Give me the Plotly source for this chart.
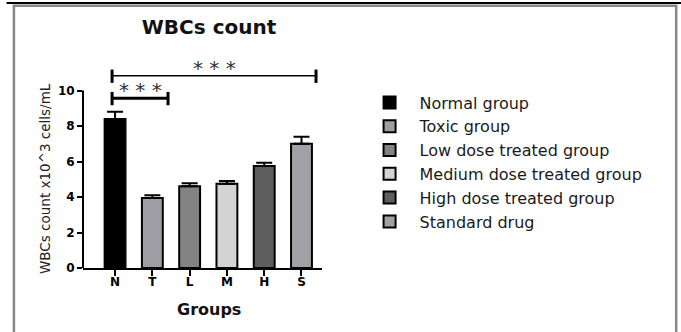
import plotly.graph_objects as go

# ---- data ----
codes = ["N", "T", "L", "M", "H", "S"]
group_names = ["Normal group", "Toxic group", "Low dose treated group",
               "Medium dose treated group", "High dose treated group", "Standard drug"]
wbc_mean = [8.4, 3.95, 4.6, 4.75, 5.75, 7.0]
wbc_sem = [0.4, 0.15, 0.18, 0.15, 0.18, 0.4]
bar_colors = ["#000000", "#9e9ea4", "#838383", "#d3d3d3", "#5e5e5e", "#a2a2a6"]

# significance comparisons: (from index, to index, label)
comparisons = [(0, 1, "* * *"), (0, 5, "* * *")]

fig = go.Figure()
for i, (c, n, v, e, col) in enumerate(zip(codes, group_names, wbc_mean, wbc_sem, bar_colors)):
    fig.add_trace(go.Bar(
        x=[i], y=[v], name=n, width=0.56,
        marker=dict(color=col, line=dict(color="black", width=2)),
        error_y=dict(type="data", array=[e], arrayminus=[0], symmetric=False,
                     color="black", thickness=2, width=8),
    ))

shapes = []
annotations = []
# y-axis line only from 0 to 10
shapes.append(dict(type="line", xref="paper", yref="y", x0=0, x1=0, y0=0, y1=10,
                   line=dict(color="black", width=2)))
# brackets
bracket_levels = [9.57, 10.83]
for (a, b, lab), lvl in zip(comparisons, bracket_levels):
    x0 = a - 0.08
    x1 = b + 0.42 if b == 1 else b + 0.39
    lw = 3 if lvl < 10 else 1.5
    shapes.append(dict(type="line", xref="x", yref="y", x0=x0, x1=x1, y0=lvl, y1=lvl,
                       line=dict(color="black", width=lw)))
    for xx in (x0, x1):
        shapes.append(dict(type="line", xref="x", yref="y", x0=xx, x1=xx,
                           y0=lvl - 0.4, y1=lvl + 0.35, line=dict(color="black", width=3)))
    annotations.append(dict(x=(x0 + x1) / 2, y=lvl + 0.45, xref="x", yref="y",
                            text=lab, showarrow=False, yanchor="middle",
                            font=dict(family="DejaVu Sans", size=20, color="#333")))

# outer frame
shapes.append(dict(type="rect", xref="paper", yref="paper", x0=-0.289, x1=2.482,
                   y0=-0.4, y1=1.231, line=dict(color="#888888", width=2.5), layer="below"))
shapes.append(dict(type="line", xref="paper", yref="paper", x0=-0.32, x1=2.6,
                   y0=1.244, y1=1.244, line=dict(color="black", width=2)))

annotations.append(dict(xref="paper", yref="paper", x=-0.159, y=0.4225,
                        xanchor="center", yanchor="middle",
                        text="WBCs count x10^3 cells/mL", textangle=-90, showarrow=False,
                        font=dict(family="DejaVu Sans", size=13.5, color="#222")))
annotations.append(dict(xref="paper", yref="paper", x=0.527, y=-0.197,
                        xanchor="center", yanchor="middle",
                        text="<b>Groups</b>", showarrow=False,
                        font=dict(family="DejaVu Sans", size=16, color="#111")))

fig.update_layout(
    width=681, height=332,
    margin=dict(l=83, r=359, t=55, b=64),
    paper_bgcolor="white", plot_bgcolor="white",
    barmode="overlay",
    title=dict(text="<b>WBCs count</b>", x=0.307, xanchor="center", y=0.919, yanchor="middle",
               font=dict(family="DejaVu Sans", size=20, color="#111")),
    xaxis=dict(range=[-0.86, 5.55], tickmode="array", tickvals=list(range(len(codes))),
               ticktext=["<b>%s</b>" % c for c in codes], showgrid=False, zeroline=False,
               showline=True, linecolor="black", linewidth=2,
               ticks="outside", ticklen=6, tickwidth=2, tickcolor="black",
               ticklabelstandoff=-4,
               tickfont=dict(family="DejaVu Sans", size=12, color="black")),
    yaxis=dict(range=[0, 12], tickmode="array", tickvals=[0, 2, 4, 6, 8, 10],
               ticktext=["<b>%d</b>" % t for t in [0, 2, 4, 6, 8, 10]],
               showgrid=False, zeroline=False, showline=False,
               ticks="outside", ticklen=5, tickwidth=2, tickcolor="black",
               tickfont=dict(family="DejaVu Sans", size=12, color="black")),
    legend=dict(xref="container", yref="container", x=0.528, xanchor="left",
                y=0.7425, yanchor="top", itemwidth=50,
                font=dict(family="DejaVu Sans", size=16, color="#1a1a1a"),
                bgcolor="rgba(0,0,0,0)", traceorder="normal"),
    shapes=shapes, annotations=annotations, showlegend=True,
)

fig.write_html("out.html", config={"displayModeBar": False},
               post_script="document.body.style.margin='0px';")
